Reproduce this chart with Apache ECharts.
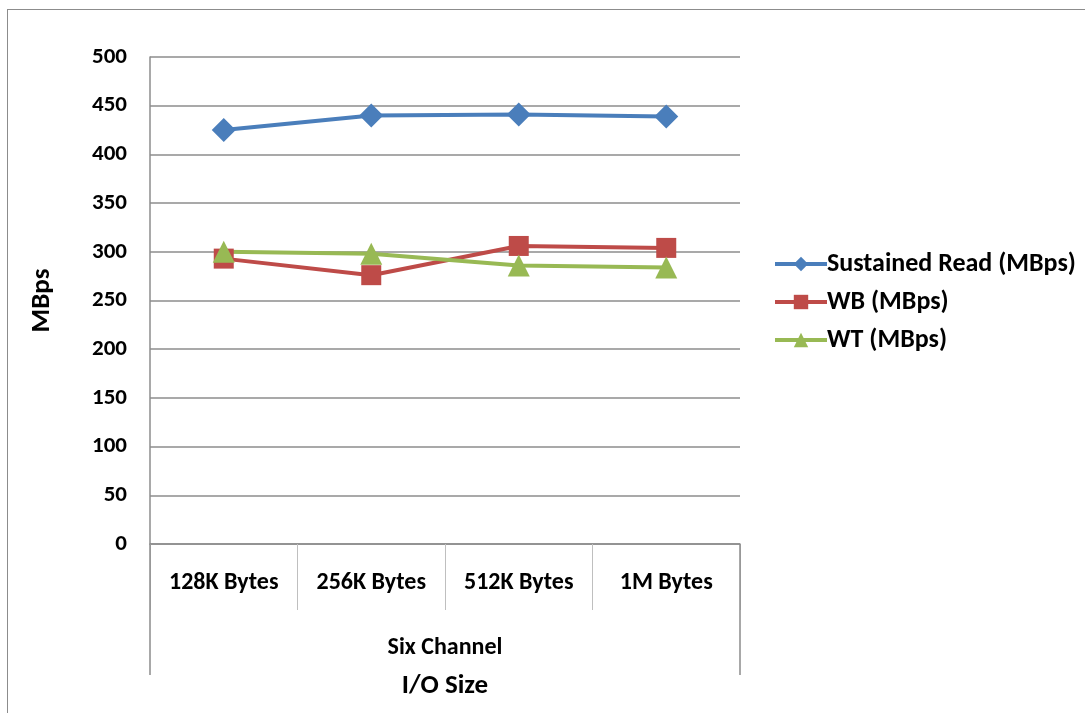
<!DOCTYPE html>
<html>
<head>
<meta charset="utf-8">
<script src="https://cdn.jsdelivr.net/npm/echarts@6/dist/echarts.min.js"></script>
<style>
  html, body { margin: 0; padding: 0; background: #fff; }
  #frame { position: absolute; left: 7px; top: 9px; width: 1090px; height: 720px; border: 1.5px solid #8c8c8c; box-sizing: border-box; }
  #chart { position: absolute; left: 0; top: 0; width: 1085px; height: 713px; }
</style>
</head>
<body>
<div id="frame"></div>
<div id="chart"></div>
<script>
const categories = ['128K Bytes', '256K Bytes', '512K Bytes', '1M Bytes'];
const groupLabel = ['Six Channel'];
const sustainedRead = [425, 440, 441, 439];
const wb = [293, 276, 306, 304];
const wt = [300, 298, 286, 284];

const FONT = "'Carlito', 'Liberation Sans Narrow', 'Open Sans', sans-serif";
const gray = '#8c8c8c';

const chart = echarts.init(document.getElementById('chart'), null, { renderer: 'canvas' });
chart.setOption({
  animation: false,
  backgroundColor: 'transparent',
  grid: { left: 150, right: 345, top: 57, bottom: 169 },
  legend: {
    orient: 'vertical',
    left: 768,
    top: 246,
    itemWidth: 52,
    itemHeight: 18,
    itemGap: 12,
    lineStyle: { width: 4 },
    textStyle: { fontFamily: FONT, fontWeight: 'bold', fontSize: 26, color: '#000', padding: [0, 0, 0, -5] },
    data: ['Sustained Read (MBps)', 'WB (MBps)', 'WT (MBps)']
  },
  xAxis: [
    {
      type: 'category',
      data: categories,
      boundaryGap: true,
      axisLine: { lineStyle: { color: gray, width: 1.5 } },
      axisTick: { show: true, length: 66, interval: 0, lineStyle: { color: '#bfbfbf', width: 1 } },
      axisLabel: { margin: 27, fontFamily: FONT, fontWeight: 'bold', fontSize: 24, color: '#000' }
    },
    {
      type: 'category',
      position: 'bottom',
      data: groupLabel,
      boundaryGap: true,
      axisLine: { show: false },
      axisTick: { show: true, length: 131, lineStyle: { color: gray, width: 1.5 } },
      axisLabel: { margin: 92, fontFamily: FONT, fontWeight: 'bold', fontSize: 24, color: '#000' },
      name: 'I/O Size',
      nameLocation: 'middle',
      nameGap: 142,
      nameTextStyle: { fontFamily: FONT, fontWeight: 'bold', fontSize: 27, color: '#000', verticalAlign: 'middle' }
    }
  ],
  yAxis: {
    type: 'value',
    min: 0,
    max: 500,
    interval: 50,
    name: 'MBps',
    nameLocation: 'middle',
    nameGap: 108,
    nameRotate: 90,
    nameTextStyle: { fontFamily: FONT, fontWeight: 'bold', fontSize: 27, color: '#000', verticalAlign: 'middle' },
    axisLine: { show: true, lineStyle: { color: gray, width: 1.5 } },
    axisTick: { show: false },
    splitLine: { lineStyle: { color: gray, width: 1.5 } },
    axisLabel: { margin: 23, fontFamily: FONT, fontWeight: 'bold', fontSize: 23, color: '#000' }
  },
  series: [
    {
      name: 'Sustained Read (MBps)', type: 'line', xAxisIndex: 0, data: sustainedRead,
      symbol: 'diamond', symbolSize: 24,
      lineStyle: { color: '#4A7EBB', width: 4 }, itemStyle: { color: '#4A7EBB' }
    },
    {
      name: 'WB (MBps)', type: 'line', xAxisIndex: 0, data: wb,
      symbol: 'rect', symbolSize: 20,
      lineStyle: { color: '#BE4B48', width: 4 }, itemStyle: { color: '#BE4B48' }
    },
    {
      name: 'WT (MBps)', type: 'line', xAxisIndex: 0, data: wt,
      symbol: 'triangle', symbolSize: 22,
      lineStyle: { color: '#98B954', width: 4 }, itemStyle: { color: '#98B954' }
    }
  ]
});
</script>
</body>
</html>
